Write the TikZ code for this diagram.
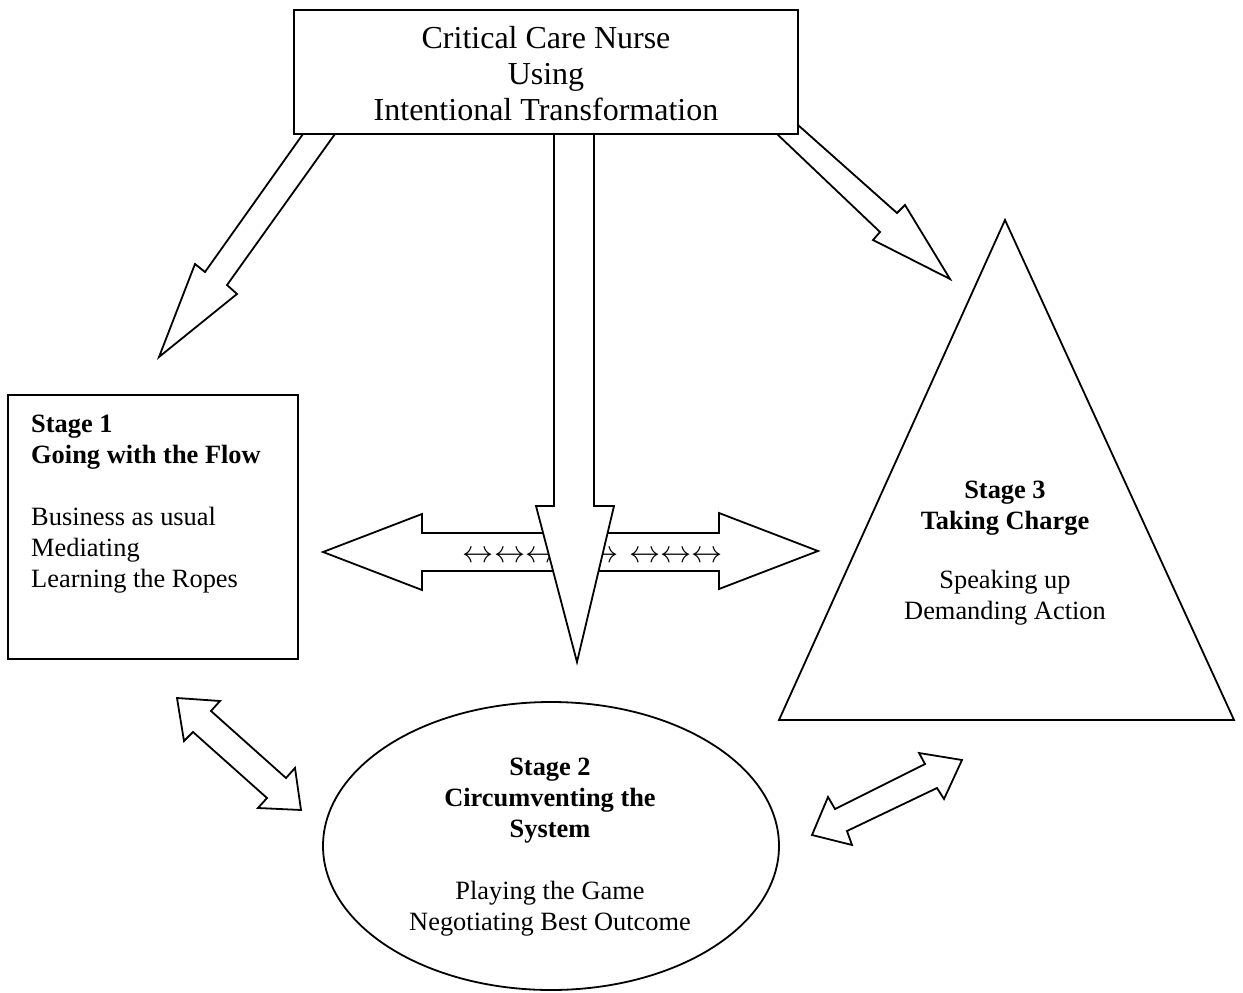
\documentclass[tikz,border=0pt]{standalone}
\usepackage{fontspec}
\usepackage{graphicx}
\setmainfont{Liberation Serif}
\usetikzlibrary{shapes.geometric}
\begin{document}
\begin{tikzpicture}[x=1pt,y=-1pt,line join=miter,
  outl/.style={draw=black,fill=white,line width=1.8pt},
  bodytxt/.style={font=\fontsize{26.4}{31}\selectfont,inner sep=0pt},
  toptxt/.style={font=\fontsize{32}{36}\selectfont,inner sep=0pt,align=center}]
\useasboundingbox (0,0) rectangle (1243,993);
\fill[white] (0,0) rectangle (1243,993);

% top box
\node[outl,minimum width=504pt,minimum height=124pt,inner sep=0pt] (top) at (546,72) {};
\node[toptxt] (toptext) at (546,74) {Critical Care Nurse\\Using\\Intentional Transformation};

% stage 1 box
\node[outl,minimum width=290pt,minimum height=264pt,inner sep=0pt] (s1) at (153,527) {};
\node[bodytxt,align=left,anchor=west] (s1text) at (31,504)
  {\textbf{Stage 1}\\\textbf{Going with the Flow}\\[31pt]Business as usual\\Mediating\\Learning the Ropes};

% stage 2 ellipse
\node[outl,ellipse,minimum width=456pt,minimum height=288pt,inner sep=0pt] (s2) at (551,846) {};
\node[bodytxt,align=center] (s2text) at (550,847)
  {\textbf{Stage 2}\\\textbf{Circumventing the}\\\textbf{System}\\[31pt]Playing the Game\\Negotiating Best Outcome};

% stage 3 triangle
\coordinate (tA) at (1005,220);
\coordinate (tB) at (779,720);
\coordinate (tC) at (1234,720);
\draw[outl] (tA) -- (tB) -- (tC) -- cycle;
\node[bodytxt,align=center] (s3text) at (1005,553)
  {\textbf{Stage 3}\\\textbf{Taking Charge}\\[28pt]Speaking up\\Demanding Action};

% arrow top -> stage 1
\draw[outl] (303,134) -- (205,272) -- (195,264) -- (159,357) -- (237,294) -- (227,285) -- (335,134) -- cycle;

% arrow top -> stage 3
\draw[outl] (777,134) -- (798,134) -- (798,125) -- (897,213) -- (905,205) -- (950,279)
  -- (873,240) -- (880,232) -- cycle;

% double arrow stage 1 <-> stage 2
\draw[outl] (177,698) -- (220,701) -- (211,711) -- (286,778) -- (295,768) -- (301,810)
  -- (258,808) -- (267,798) -- (193,732) -- (184,741) -- cycle;

% double arrow stage 2 <-> stage 3
\draw[outl] (812,835) -- (828,797) -- (835,809) -- (925,764) -- (919,753) -- (962,760)
  -- (944,799) -- (937,788) -- (847,831) -- (852,845) -- cycle;

% horizontal double arrow
\draw[outl] (323,552) -- (422,514) -- (422,533) -- (719,533) -- (719,513) -- (818,551)
  -- (719,589) -- (719,571) -- (422,571) -- (422,590) -- cycle;
\node[inner sep=0pt,font=\fontsize{24.88}{24.88}\selectfont] (small) at (593,557)
  {\scalebox{1.25}{$\leftrightarrow\leftrightarrow\leftrightarrow\leftrightarrow\leftrightarrow$\hspace{9pt}$\leftrightarrow\leftrightarrow\leftrightarrow$}};

% central vertical arrow
\draw[outl] (554,134) -- (554,506) -- (536,506) -- (577,662) -- (614,506) -- (594,506) -- (594,134) -- cycle;
\end{tikzpicture}
\end{document}
